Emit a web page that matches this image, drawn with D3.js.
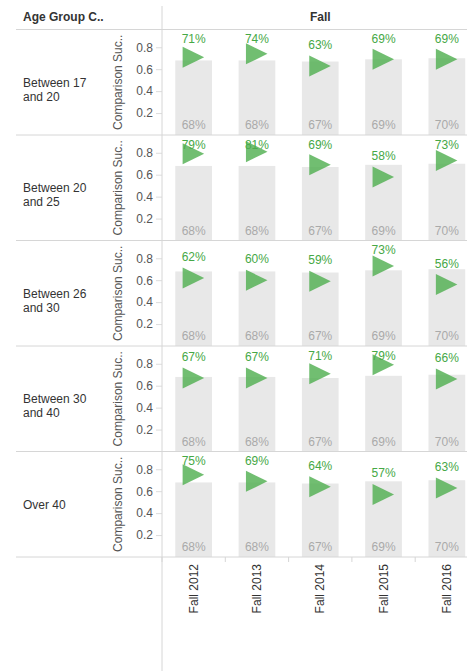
<!DOCTYPE html>
<html>
<head>
<meta charset="utf-8">
<script src="https://cdn.jsdelivr.net/npm/d3@7"></script>
<style>
  body { margin: 0; background: #fff; }
  svg { display: block; font-family: "Liberation Sans", Arial, sans-serif; }
</style>
</head>
<body>
<script>
(function() {
    // categories
    const years = ["Fall 2012", "Fall 2013", "Fall 2014", "Fall 2015", "Fall 2016"];
    const ageGroups = ["Between 17 and 20", "Between 20 and 25", "Between 26 and 30", "Between 30 and 40", "Over 40"];

    // grey bars: overall comparison rate, same for every row
    const comparison = [0.68, 0.68, 0.67, 0.69, 0.70];

    // green triangles: success rate of each age group
    const success17to20 = [0.71, 0.74, 0.63, 0.69, 0.69];
    const success20to25 = [0.79, 0.81, 0.69, 0.58, 0.73];
    const success26to30 = [0.62, 0.60, 0.59, 0.73, 0.56];
    const success30to40 = [0.67, 0.67, 0.71, 0.79, 0.66];
    const successOver40 = [0.75, 0.69, 0.64, 0.57, 0.63];
    const successRows = [success17to20, success20to25, success26to30, success30to40, successOver40];

    const yTicks = [0.2, 0.4, 0.6, 0.8];

    const width = 467;
    const height = 671;
    const left = 162;      // start of the pane area
    const top = 29.5;      // header bottom
    const bottom = 557;    // bottom of last row
    const lineColor = "#d6d6d6";

    const svg = d3.select("body")
        .append("svg")
        .attr("width", width)
        .attr("height", height);

    const xScale = d3.scaleBand()
        .domain(years)
        .range([left, left + 5 * 63.3])
        .paddingInner(0.42)
        .paddingOuter(0.21);

    const rowScale = d3.scaleBand()
        .domain(ageGroups)
        .range([top, bottom]);

    const pct = d3.format(".0%");

    // header texts
    svg.append("text")
        .attr("x", 23)
        .attr("y", 21)
        .attr("font-size", 12)
        .attr("font-weight", "bold")
        .attr("fill", "#333")
        .text("Age Group C..");

    svg.append("text")
        .attr("x", left + 5 * 63.3 / 2)
        .attr("y", 21)
        .attr("text-anchor", "middle")
        .attr("font-size", 12)
        .attr("font-weight", "bold")
        .attr("fill", "#333")
        .text("Fall");

    // one row per age group
    ageGroups.forEach(function(group, i) {
        const r0 = rowScale(group);
        const r1 = r0 + rowScale.bandwidth();
        const yScale = d3.scaleLinear().domain([0, 0.962]).range([r1, r0]);
        const row = svg.append("g");

        // row label, wrapped before "and"
        const parts = group.split(" and ");
        const label = row.append("text")
            .attr("x", 23)
            .attr("font-size", 12)
            .attr("fill", "#333");
        const mid = (r0 + r1) / 2;
        if (parts.length > 1) {
            label.append("tspan").attr("x", 23).attr("y", mid + 4.5).text(parts[0]);
            label.append("tspan").attr("x", 23).attr("y", mid + 18.5).text("and " + parts[1]);
        } else {
            label.attr("y", mid + 4.5).text(group);
        }

        // y axis title
        row.append("text")
            .attr("transform", "translate(" + 121.5 + "," + mid + ") rotate(-90)")
            .attr("text-anchor", "middle")
            .attr("font-size", 12)
            .attr("fill", "#555")
            .text("Comparison Suc..");

        // y axis
        const axis = row.append("g")
            .attr("transform", "translate(" + left + ",0)")
            .call(d3.axisLeft(yScale).tickValues(yTicks).tickSize(6).tickPadding(3).tickFormat(d3.format(".1f")));
        axis.select(".domain").remove();
        axis.selectAll("line").attr("stroke", "#dcdcdc");
        axis.selectAll("text")
            .attr("font-size", 12)
            .attr("font-family", "Liberation Sans, Arial, sans-serif")
            .attr("fill", "#555");

        // grey comparison bars
        row.selectAll(".bar")
            .data(comparison)
            .enter().append("rect")
            .attr("class", "bar")
            .attr("x", (d, j) => xScale(years[j]))
            .attr("width", xScale.bandwidth())
            .attr("y", d => yScale(d))
            .attr("height", d => r1 - yScale(d))
            .attr("fill", "#e8e8e8");

        row.selectAll(".bar-label")
            .data(comparison)
            .enter().append("text")
            .attr("class", "bar-label")
            .attr("x", (d, j) => xScale(years[j]) + xScale.bandwidth() / 2)
            .attr("y", r1 - 6)
            .attr("text-anchor", "middle")
            .attr("font-size", 12)
            .attr("fill", "#aaaaaa")
            .text(d => pct(d));

        const values = successRows[i];

        // green value labels, kept inside the pane
        row.selectAll(".val-label")
            .data(values)
            .enter().append("text")
            .attr("class", "val-label")
            .attr("x", (d, j) => xScale(years[j]) + xScale.bandwidth() / 2)
            .attr("y", d => Math.max(yScale(d) - 17, r0 + 13.5))
            .attr("text-anchor", "middle")
            .attr("font-size", 12)
            .attr("fill", "#46a846")
            .text(d => pct(d));

        // triangles
        row.selectAll(".tri")
            .data(values)
            .enter().append("path")
            .attr("class", "tri")
            .attr("d", "M-11,-10.5L10.5,0L-11,10.5Z")
            .attr("transform", (d, j) => "translate(" + (xScale(years[j]) + xScale.bandwidth() / 2) + "," + yScale(d) + ")")
            .attr("fill", "#4eae4e")
            .attr("fill-opacity", 0.8);

        // row separator
        row.append("line")
            .attr("x1", 16).attr("x2", width)
            .attr("y1", r1).attr("y2", r1)
            .attr("stroke", lineColor);
    });

    // header separator
    svg.append("line")
        .attr("x1", 16).attr("x2", width)
        .attr("y1", top).attr("y2", top)
        .attr("stroke", lineColor);

    // vertical divider
    svg.append("line")
        .attr("x1", left).attr("x2", left)
        .attr("y1", 6).attr("y2", height)
        .attr("stroke", lineColor);

    // x axis: boundary ticks and rotated labels
    const gap = (xScale.step() - xScale.bandwidth()) / 2;
    svg.selectAll(".xtick")
        .data(years)
        .enter().append("line")
        .attr("class", "xtick")
        .attr("x1", d => xScale(d) - gap)
        .attr("x2", d => xScale(d) - gap)
        .attr("y1", bottom)
        .attr("y2", bottom + 5)
        .attr("stroke", lineColor);

    svg.selectAll(".xlabel")
        .data(years)
        .enter().append("text")
        .attr("class", "xlabel")
        .attr("transform", d => "translate(" + (xScale(d) + xScale.bandwidth() / 2) + "," + (bottom + 7) + ") rotate(-90)")
        .attr("dy", "0.35em")
        .attr("text-anchor", "end")
        .attr("font-size", 12)
        .attr("fill", "#333")
        .text(d => d);
})();
</script>
</body>
</html>
